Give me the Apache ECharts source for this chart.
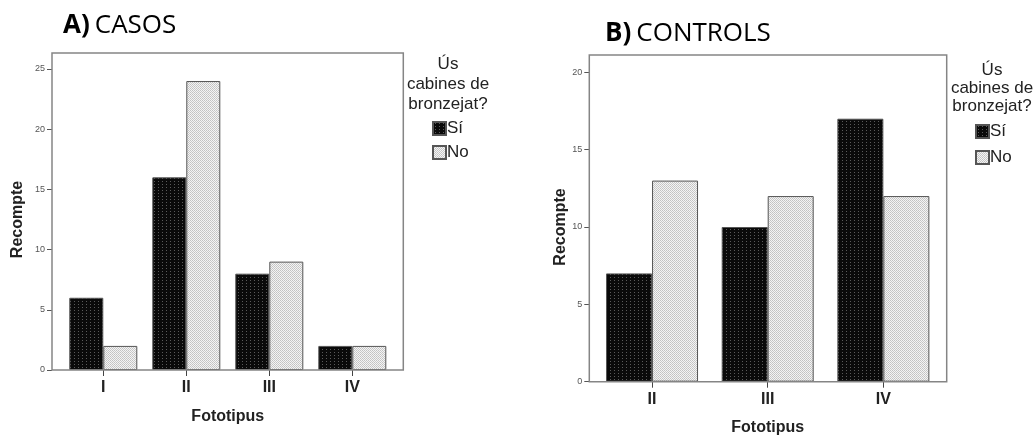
<!DOCTYPE html>
<html>
<head>
<meta charset="utf-8">
<script src="https://cdn.jsdelivr.net/npm/echarts@6/dist/echarts.min.js"></script>
<style>
  html, body { margin: 0; padding: 0; background: #fff; }
  #chart { width: 1035px; height: 436px; }
</style>
</head>
<body>
<div id="chart"></div>
<script>
// Panel A: cases
const casosCategories = ['I', 'II', 'III', 'IV'];
const casosSi = [6, 16, 8, 2];
const casosNo = [2, 24, 9, 2];
const casosTicks = [0, 5, 10, 15, 20, 25];

// Panel B: controls
const controlsCategories = ['II', 'III', 'IV'];
const controlsSi = [7, 10, 17];
const controlsNo = [13, 12, 12];
const controlsTicks = [0, 5, 10, 15, 20];

const legendNames = ['Sí', 'No'];
const legendTitle = 'Ús\ncabines de\nbronzejat?';

// Fill textures for the two groups
function makePattern(w, h, bg, dots) {
  const c = document.createElement('canvas');
  c.width = w; c.height = h;
  const g = c.getContext('2d');
  g.fillStyle = bg; g.fillRect(0, 0, w, h);
  dots.forEach(([x, y, col]) => { g.fillStyle = col; g.fillRect(x, y, 1, 1); });
  return { image: c, repeat: 'repeat' };
}
const siFill = makePattern(4, 3, '#0a0a0a', [[2, 1, '#5a5a5a']]);
const noFill = makePattern(2, 2, '#f4f4f4', [[0, 0, '#c2c2c2'], [1, 1, '#cacaca']]);

const FONT = 'Liberation Sans, Arial, sans-serif';

function yAxisCfg(gridIndex, max, offset, nameGap, ticks) {
  return {
    type: 'value', gridIndex, min: 0, max, interval: 5, offset,
    name: 'Recompte', nameLocation: 'middle', nameGap, nameRotate: 90,
    nameTextStyle: { fontFamily: FONT, fontWeight: 'bold', fontSize: 16, color: '#222' },
    axisLine: { show: false },
    axisTick: { show: true, length: 5, lineStyle: { color: '#555', width: 1 }, customValues: ticks },
    axisLabel: { fontFamily: FONT, fontSize: 9, color: '#555', margin: 7, customValues: ticks },
    splitLine: { show: false }
  };
}
function xAxisCfg(gridIndex, data, nameGap) {
  return {
    type: 'category', gridIndex, data,
    name: 'Fototipus', nameLocation: 'middle', nameGap,
    nameTextStyle: { fontFamily: FONT, fontWeight: 'bold', fontSize: 16, color: '#222' },
    axisLine: { show: false },
    axisTick: { show: true, alignWithLabel: true, length: 6, lineStyle: { color: '#444', width: 1 } },
    axisLabel: { fontFamily: FONT, fontWeight: 'bold', fontSize: 16, color: '#222', margin: 10 }
  };
}
function barSeries(name, data, fill, axisIndex, width) {
  return {
    type: 'bar', name, data, xAxisIndex: axisIndex, yAxisIndex: axisIndex,
    barWidth: width, barGap: '0%',
    itemStyle: { color: fill, borderColor: '#555', borderWidth: 1 },
    emphasis: { disabled: true }, animation: false
  };
}
function legendCfg(left, top, gap) {
  return {
    data: legendNames, orient: 'vertical', left, top,
    icon: 'rect', itemWidth: 13, itemHeight: 13, itemGap: gap,
    textStyle: { fontFamily: FONT, fontSize: 17, color: '#222', padding: [0, 0, 0, -4] },
    selectedMode: false
  };
}
function panelTitle(label, name, left, top) {
  return {
    text: '{b|' + label + '} {r|' + name + '}', left, top,
    textStyle: {
      fontWeight: 'normal',
      rich: {
        b: { fontFamily: 'Open Sans', fontWeight: 'bold', fontSize: 26, color: '#000' },
        r: { fontFamily: 'Open Sans', fontWeight: 'normal', fontSize: 26, color: '#000' }
      }
    }
  };
}

const chart = echarts.init(document.getElementById('chart'), null, { renderer: 'canvas' });
chart.setOption({
  animation: false,
  backgroundColor: '#fff',
  title: [
    panelTitle('A)', 'CASOS', 58, 8),
    panelTitle('B)', 'CONTROLS', 600, 16)
  ],
  grid: [
    { left: 61.8, top: 69, width: 332, height: 301, outerBoundsMode: 'none' },
    { left: 594.2, top: 72.3, width: 347, height: 309.4, outerBoundsMode: 'none' }
  ],
  xAxis: [xAxisCfg(0, casosCategories, 39), xAxisCfg(1, controlsCategories, 38)],
  yAxis: [yAxisCfg(0, 25, 9.8, 26, casosTicks), yAxisCfg(1, 20, 4.9, 17, controlsTicks)],
  legend: [legendCfg(427, 115, 7), legendCfg(970, 118, 9)],
  series: [
    barSeries('Sí', casosSi, siFill, 0, 34),
    barSeries('No', casosNo, noFill, 0, 34),
    barSeries('Sí', controlsSi, siFill, 1, 46),
    barSeries('No', controlsNo, noFill, 1, 46)
  ],
  graphic: [
    // plot frames
    { type: 'rect', shape: { x: 52, y: 53, width: 351.3, height: 317 }, silent: true, z: 10,
      style: { fill: 'none', stroke: '#858585', lineWidth: 1.5 } },
    { type: 'rect', shape: { x: 589.3, y: 55, width: 357.4, height: 326.7 }, silent: true, z: 10,
      style: { fill: 'none', stroke: '#858585', lineWidth: 1.5 } },
    // legend headings
    { type: 'text', silent: true,
      style: { x: 448, y: 54, text: legendTitle, font: '17px ' + FONT, fill: '#222', align: 'center', lineHeight: 20 } },
    { type: 'text', silent: true,
      style: { x: 992, y: 61, text: legendTitle, font: '17px ' + FONT, fill: '#222', align: 'center', lineHeight: 18 } }
  ]
});
</script>
</body>
</html>
